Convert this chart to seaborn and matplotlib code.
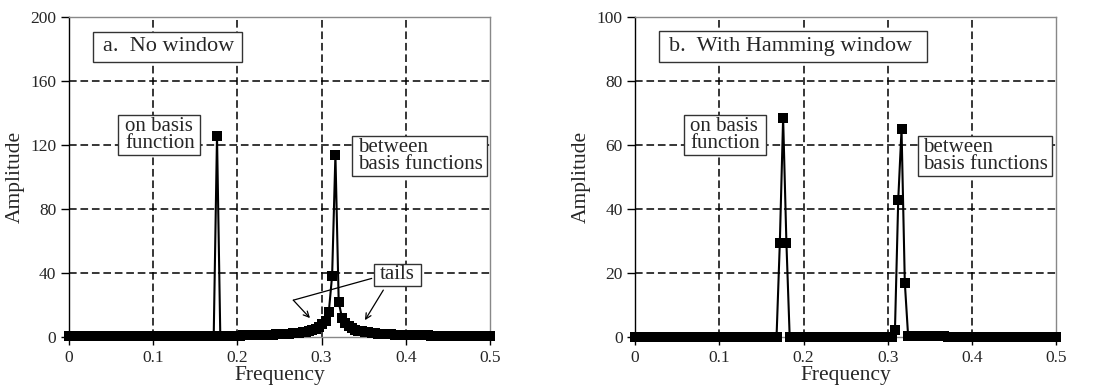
from matplotlib import pyplot as plt
from matplotlib.patches import Rectangle
import seaborn as sns
import numpy as np

# DFT bins of a 256 point signal, 0 to 0.5
freq = np.linspace(0, 0.5, 129)

amp_no_window = [
    0.4, 0.4, 0.4, 0.4, 0.4, 0.4, 0.4, 0.4, 0.4, 0.4,
    0.4, 0.4, 0.4, 0.4, 0.4, 0.5, 0.5, 0.5, 0.5, 0.5,
    0.5, 0.5, 0.5, 0.5, 0.5, 0.5, 0.5, 0.6, 0.6, 0.6,
    0.6, 0.6, 0.6, 0.6, 0.6, 0.6, 0.7, 0.7, 0.7, 0.7,
    0.7, 0.7, 0.8, 0.8, 0.8, 126.0, 0.9, 0.9, 0.9, 0.9,
    1.0, 1.0, 1.0, 1.1, 1.1, 1.2, 1.2, 1.3, 1.3, 1.4,
    1.4, 1.5, 1.6, 1.7, 1.8, 1.9, 2.0, 2.2, 2.3, 2.5,
    2.8, 3.0, 3.4, 3.8, 4.4, 5.2, 6.3, 7.9, 10.0, 16.0,
    38.5, 114.0, 22.0, 12.0, 9.1, 7.0, 5.6, 4.7, 4.1, 3.6,
    3.2, 2.9, 2.6, 2.4, 2.2, 2.1, 2.0, 1.8, 1.7, 1.6,
    1.5, 1.5, 1.4, 1.3, 1.3, 1.2, 1.2, 1.1, 1.1, 1.1,
    1.0, 1.0, 1.0, 0.9, 0.9, 0.9, 0.8, 0.8, 0.8, 0.8,
    0.8, 0.7, 0.7, 0.7, 0.7, 0.7, 0.7, 0.6, 0.6,
]

amp_hamming = [
    0.0, 0.0, 0.0, 0.0, 0.0, 0.0, 0.0, 0.0, 0.0, 0.0,
    0.0, 0.0, 0.0, 0.0, 0.0, 0.0, 0.0, 0.0, 0.0, 0.0,
    0.0, 0.0, 0.0, 0.0, 0.0, 0.0, 0.0, 0.0, 0.0, 0.0,
    0.0, 0.0, 0.0, 0.0, 0.0, 0.0, 0.0, 0.0, 0.0, 0.0,
    0.0, 0.0, 0.0, 0.0, 29.5, 68.5, 29.5, 0.0, 0.0, 0.0,
    0.0, 0.0, 0.0, 0.0, 0.0, 0.0, 0.0, 0.0, 0.0, 0.0,
    0.0, 0.0, 0.0, 0.0, 0.0, 0.0, 0.0, 0.0, 0.0, 0.0,
    0.0, 0.0, 0.0, 0.0, 0.0, 0.0, 0.0, 0.0, 0.1, 2.2,
    43.0, 65.0, 17.0, 0.4, 0.3, 0.3, 0.2, 0.2, 0.2, 0.2,
    0.2, 0.2, 0.2, 0.2, 0.2, 0.1, 0.1, 0.0, 0.0, 0.0,
    0.0, 0.0, 0.0, 0.0, 0.0, 0.0, 0.0, 0.0, 0.0, 0.0,
    0.0, 0.0, 0.0, 0.0, 0.0, 0.0, 0.0, 0.0, 0.0, 0.0,
    0.0, 0.0, 0.0, 0.0, 0.0, 0.0, 0.0, 0.0, 0.0,
]

x_ticks = [0, 0.1, 0.2, 0.3, 0.4, 0.5]
x_tick_labels = ["0", "0.1", "0.2", "0.3", "0.4", "0.5"]
y_ticks_a = [0, 40, 80, 120, 160, 200]
y_ticks_b = [0, 20, 40, 60, 80, 100]

sns.set_style("white")
plt.rcParams["font.family"] = ["Liberation Serif", "DejaVu Serif"]


def add_box(ax, x0, x1, y0, y1, text, tx, size=15, ha="left"):
    ax.add_patch(Rectangle((x0, y0), x1 - x0, y1 - y0, facecolor="white",
                           edgecolor="#333333", lw=1.0, zorder=3))
    ax.text(tx, (y0 + y1) / 2, text, ha=ha, va="center", fontsize=size,
            linespacing=0.82, zorder=3.5)


def setup_axes(ax, yticks):
    ax.set_xlim(0, 0.5)
    ax.set_ylim(yticks[0], yticks[-1])
    ax.set_xticks(x_ticks)
    ax.set_xticklabels(x_tick_labels)
    ax.set_yticks(yticks)
    ax.tick_params(axis="both", direction="out", length=6, width=1,
                   labelsize=12.5, color="black", pad=3,
                   left=True, bottom=True)
    for xv in x_ticks[1:-1]:
        ax.axvline(xv, color="black", lw=1.1, ls=(0, (5, 2.5)), zorder=1)
    for yv in yticks[1:-1]:
        ax.axhline(yv, color="black", lw=1.1, ls=(0, (5, 2.5)), zorder=1)
    ax.spines["left"].set_color("black")
    for s in ["top", "right", "bottom"]:
        ax.spines[s].set_color("#888888")
    for s in ax.spines.values():
        s.set_linewidth(1.0)
    ax.set_xlabel("Frequency", fontsize=15.5, labelpad=0)
    ax.set_ylabel("Amplitude", fontsize=15.5, labelpad=4)


fig = plt.figure(figsize=(10.95, 3.92), dpi=100)
ax1 = fig.add_axes([0.063, 0.140, 0.3845, 0.816])
ax2 = fig.add_axes([0.580, 0.140, 0.3845, 0.816])

for ax, amp in [(ax1, amp_no_window), (ax2, amp_hamming)]:
    sns.lineplot(x=freq, y=amp, ax=ax, color="black", lw=1.5, marker="s",
                 markersize=6.5, markeredgewidth=0, clip_on=False, zorder=4)

setup_axes(ax1, y_ticks_a)
setup_axes(ax2, y_ticks_b)

# panel a annotations
add_box(ax1, 0.029, 0.205, 172, 191, "a.  No window", 0.040, size=16)
add_box(ax1, 0.058, 0.156, 114, 139, "on basis\nfunction", 0.0665)
add_box(ax1, 0.336, 0.496, 100.6, 125.6, "between\nbasis functions", 0.3435)
add_box(ax1, 0.362, 0.418, 32, 46, "tails", 0.390, ha="center")
ax1.plot([0.3595, 0.2664], [36.7, 23.1], color="black", lw=0.9, zorder=3)
ax1.annotate("", xy=(0.2862, 11.9), xytext=(0.2664, 23.1),
             arrowprops=dict(arrowstyle="->", color="black", lw=0.9,
                             shrinkA=0, shrinkB=0), zorder=3)
ax1.annotate("", xy=(0.3515, 10.6), xytext=(0.3733, 29.4),
             arrowprops=dict(arrowstyle="->", color="black", lw=0.9,
                             shrinkA=0, shrinkB=0), zorder=3)

# panel b annotations
add_box(ax2, 0.0285, 0.347, 86, 95.6, "b.  With Hamming window", 0.0404, size=16)
add_box(ax2, 0.058, 0.156, 56.9, 69.4, "on basis\nfunction", 0.0653)
add_box(ax2, 0.336, 0.495, 50.3, 62.8, "between\nbasis functions", 0.342)

fig.savefig("out.png", dpi=100)
